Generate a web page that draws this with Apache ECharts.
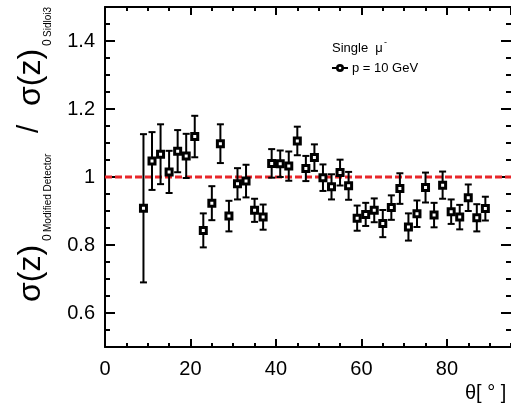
<!DOCTYPE html>
<html>
<head>
<meta charset="utf-8">
<script src="https://cdn.jsdelivr.net/npm/echarts@6/dist/echarts.min.js"></script>
<style>html,body{margin:0;padding:0;background:#fff;}#c{width:511px;height:413px;}</style>
</head>
<body>
<div id="c"></div>
<script>
var thetaDeg = [9,11,13,15,17,19,21,23,25,27,29,31,33,35,37,39,41,43,45,47,49,51,53,55,57,59,61,63,65,67,69,71,73,75,77,79,81,83,85,87,89];
var ratio = [0.908,1.047,1.067,1.015,1.076,1.062,1.119,0.843,0.923,1.098,0.885,0.980,0.988,0.902,0.882,1.040,1.039,1.032,1.106,1.025,1.057,0.998,0.971,1.013,0.974,0.879,0.890,0.902,0.863,0.910,0.966,0.853,0.892,0.969,0.888,0.976,0.898,0.882,0.939,0.880,0.907];
var ratioErr = [0.218,0.085,0.088,0.062,0.062,0.065,0.061,0.050,0.050,0.057,0.045,0.046,0.048,0.034,0.037,0.042,0.039,0.043,0.042,0.037,0.039,0.039,0.037,0.038,0.041,0.037,0.034,0.035,0.040,0.036,0.045,0.040,0.039,0.044,0.036,0.040,0.036,0.036,0.039,0.040,0.035];
var refLineY = [1, 1];
var refLineX = [0, 95];
var yTickLabels = [0.6, 0.8, 1.0, 1.2, 1.4];
var xTickLabels = [0, 20, 40, 60, 80];

var FONT = '"Liberation Sans", Arial, sans-serif';
var chart = echarts.init(document.getElementById('c'), null, {renderer: 'canvas'});

var pts = thetaDeg.map(function (t, i) { return [t, ratio[i], ratioErr[i]]; });
var lineData = refLineX.map(function (x, i) { return [x, refLineY[i]]; });

function xAx(pos, interval, len, showLine, showLabel) {
  return {
    type: 'value', position: pos, min: 0, max: 95, interval: interval,
    axisLine: {show: showLine, onZero: false, lineStyle: {color: '#000', width: 2}},
    axisTick: {show: true, inside: true, length: len, lineStyle: {color: '#000', width: 2}},
    axisLabel: {show: showLabel, color: '#000', fontSize: 20, fontFamily: FONT, margin: 12, showMaxLabel: false},
    splitLine: {show: false}
  };
}
function yAx(pos, len, showLine, showLabel, custom) {
  var a = {
    type: 'value', position: pos, min: 0.5, max: 1.5,
    axisLine: {show: showLine, onZero: false, lineStyle: {color: '#000', width: 2}},
    axisTick: {show: true, inside: true, length: len, lineStyle: {color: '#000', width: 2}},
    axisLabel: {show: showLabel, color: '#000', fontSize: 20, fontFamily: FONT, margin: 10},
    splitLine: {show: false}
  };
  if (custom) {
    a.axisTick.customValues = custom;
    a.axisLabel.customValues = custom;
  } else {
    a.interval = 0.05;
  }
  return a;
}

function txt(x, y, s, size, rot) {
  return {
    type: 'text', x: x, y: y, rotation: rot || 0,
    style: {text: s, fill: '#000', font: size + 'px ' + FONT, align: 'left', verticalAlign: 'middle'}
  };
}
var R = Math.PI / 2;

chart.setOption({
  animation: false,
  backgroundColor: '#fff',
  grid: {left: 105, right: 0, top: 7, bottom: 66, containLabel: false},
  xAxis: [
    xAx('bottom', 20, 8, true, true),
    xAx('bottom', 5, 4, false, false),
    xAx('top', 5, 4, true, false),
    xAx('top', 20, 8, false, false)
  ],
  yAxis: [
    yAx('left', 5, true, false, null),
    yAx('left', 10, false, true, yTickLabels),
    yAx('right', 5, false, false, null),
    yAx('right', 10, false, false, yTickLabels)
  ],
  series: [
    {
      type: 'line', xAxisIndex: 0, yAxisIndex: 0, data: lineData, symbol: 'none', silent: true, z: 1,
      lineStyle: {color: '#e8262b', width: 3, type: [7, 3]}
    },
    {
      type: 'custom', xAxisIndex: 0, yAxisIndex: 0, data: pts, z: 3,
      renderItem: function (params, api) {
        var x = api.value(0), y = api.value(1), e = api.value(2);
        var c = api.coord([x, y]);
        var t = api.coord([x, y + e]);
        var b = api.coord([x, y - e]);
        var st = {stroke: '#000', lineWidth: 2};
        return {
          type: 'group',
          children: [
            {type: 'line', shape: {x1: c[0], y1: t[1], x2: c[0], y2: b[1]}, style: st},
            {type: 'line', shape: {x1: c[0] - 3.5, y1: t[1], x2: c[0] + 3.5, y2: t[1]}, style: st},
            {type: 'line', shape: {x1: c[0] - 3.5, y1: b[1], x2: c[0] + 3.5, y2: b[1]}, style: st},
            {type: 'rect', shape: {x: c[0] - 3, y: c[1] - 3, width: 6, height: 6}, style: {fill: '#fff', stroke: '#000', lineWidth: 3}}
          ]
        };
      }
    }
  ],
  graphic: [
    txt(465, 393, 'θ[ ° ]', 20),
    txt(332, 48, 'Single  μ', 13),
    txt(384, 43, '-', 9),
    {type: 'line', shape: {x1: 332, y1: 68, x2: 348, y2: 68}, style: {stroke: '#000', lineWidth: 2}},
    {type: 'circle', shape: {cx: 340, cy: 68, r: 4}, style: {fill: '#000'}},
    {type: 'circle', shape: {cx: 340, cy: 68, r: 1.3}, style: {fill: '#fff'}},
    txt(352, 68, 'p = 10 GeV', 13),
    txt(31, 302, 'σ(z)', 32, R),
    txt(48, 241, '0', 12, R),
    txt(48, 232, 'Modified Detector', 10, R),
    txt(30, 133, '/', 30, R),
    txt(31, 106, 'σ(z)', 32, R),
    txt(48, 46, '0', 12, R),
    txt(48, 37, 'Sidloi3', 10, R)
  ]
});
</script>
</body>
</html>
